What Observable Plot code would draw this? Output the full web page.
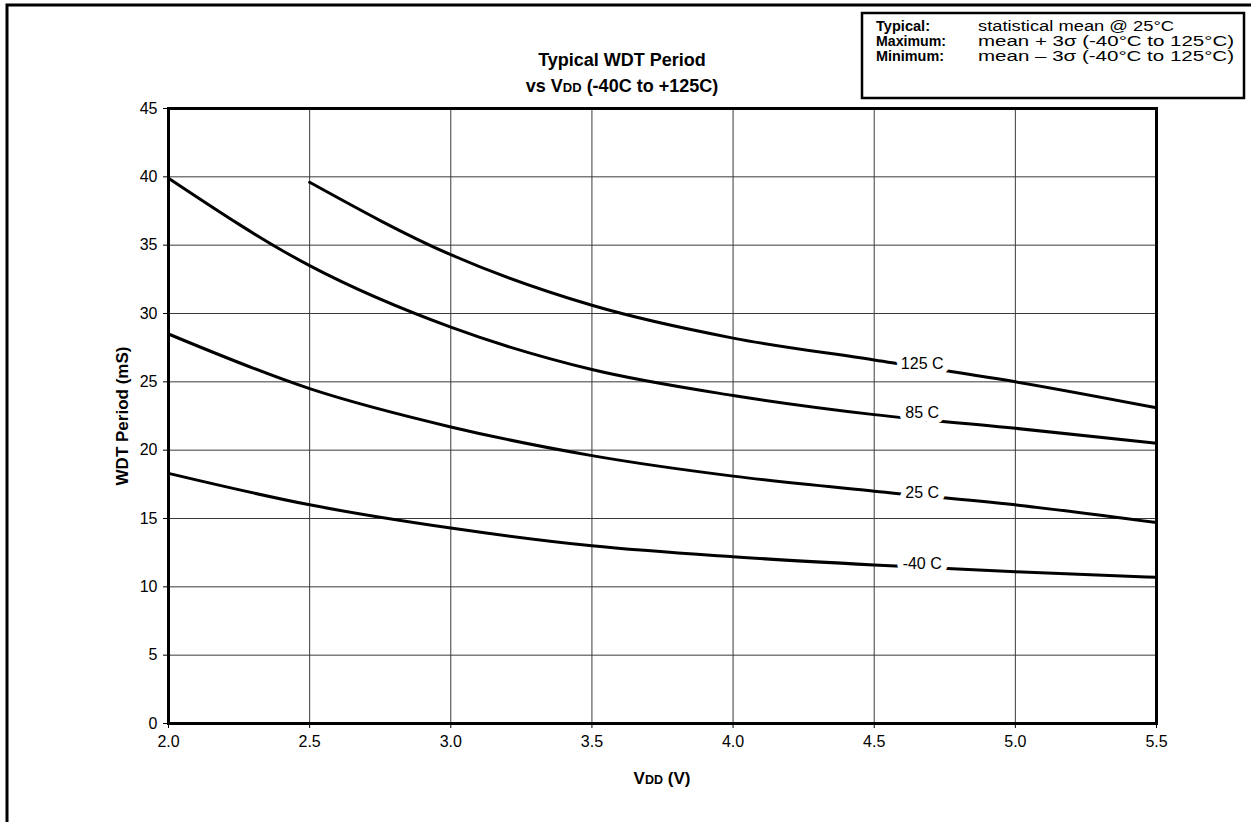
<!DOCTYPE html>
<html>
<head>
<meta charset="utf-8">
<script src="https://cdn.jsdelivr.net/npm/d3@7"></script>
<script src="https://cdn.jsdelivr.net/npm/@observablehq/plot@0.6"></script>
<style>
  html, body { margin: 0; padding: 0; background: #fff; overflow: hidden; }
  #chart { position: relative; width: 1251px; height: 822px; }
</style>
</head>
<body>
<div id="chart"></div>
<script>
// ---- data ----
const vdd   = [2.0, 2.5, 3.0, 3.5, 4.0, 4.5, 5.0, 5.5];
const t125  = [null, 39.6, 34.3, 30.6, 28.2, 26.6, 25.0, 23.1];
const t85   = [39.9, 33.5, 29.0, 25.9, 24.0, 22.6, 21.6, 20.5];
const t25   = [28.5, 24.5, 21.7, 19.6, 18.1, 17.0, 16.0, 14.7];
const tm40  = [18.3, 16.0, 14.3, 13.0, 12.2, 11.6, 11.1, 10.7];
const seriesNames = ["125 C", "85 C", "25 C", "-40 C"];
const seriesValues = [t125, t85, t25, tm40];
const labelX = [4.67, 4.67, 4.67, 4.67];
const labelY = [26.3, 22.7, 16.9, 11.7];
const xTicks = [2.0, 2.5, 3.0, 3.5, 4.0, 4.5, 5.0, 5.5];
const yTicks = [0, 5, 10, 15, 20, 25, 30, 35, 40, 45];
const legendKeys = ["Typical:", "Maximum:", "Minimum:"];
const legendTexts = ["statistical mean @ 25°C", "mean + 3σ (-40°C to 125°C)", "mean – 3σ (-40°C to 125°C)"];

// long table
const rows = [];
seriesNames.forEach((s, i) => {
  vdd.forEach((v, j) => {
    if (seriesValues[i][j] != null) rows.push({series: s, vdd: v, period: seriesValues[i][j]});
  });
});
const labels = seriesNames.map((s, i) => ({series: s, x: labelX[i], y: labelY[i]}));

const font = "'Liberation Sans', Arial, Helvetica, sans-serif";

const plot = Plot.plot({
  width: 1251,
  height: 822,
  marginLeft: 168,
  marginRight: 95,
  marginTop: 108,
  marginBottom: 99,
  style: {fontFamily: font, fontSize: "16px", color: "#000", background: "transparent"},
  x: {domain: [2.0, 5.5], ticks: xTicks, tickFormat: d3.format(".1f"), label: null},
  y: {domain: [0, 45], ticks: yTicks, label: null},
  marks: [
    Plot.gridX(xTicks, {stroke: "#3a3a3a", strokeOpacity: 1, strokeWidth: 1}),
    Plot.gridY(yTicks, {stroke: "#3a3a3a", strokeOpacity: 1, strokeWidth: 1}),
    Plot.axisX({ticks: xTicks, tickFormat: d3.format(".1f"), tickSize: 5, tickPadding: 7, stroke: "#000", fontSize: 16, label: null}),
    Plot.axisY({ticks: yTicks, tickSize: 5, tickPadding: 6, stroke: "#000", fontSize: 16, label: null}),
    Plot.line(rows, {x: "vdd", y: "period", z: "series", stroke: "#000", strokeWidth: 3, curve: "monotone-x"}),
    Plot.text(labels, {x: "x", y: "y", text: "series", fill: "#000", stroke: "#fff", strokeWidth: 12, paintOrder: "stroke", fontSize: 16}),
    Plot.frame({stroke: "#000", strokeWidth: 3})
  ]
});
document.getElementById("chart").appendChild(plot);

const svg = d3.select(plot);

// outer border of the page figure
svg.append("path")
  .attr("d", "M7,830 L7,5 L1251,5")
  .attr("fill", "none").attr("stroke", "#000").attr("stroke-width", 3);

// title
const title = svg.append("g").attr("font-family", font).attr("font-weight", "bold").attr("font-size", 18).attr("text-anchor", "middle");
title.append("text").attr("x", 622).attr("y", 66).text("Typical WDT Period");
const t2 = title.append("text").attr("x", 622).attr("y", 92);
t2.append("tspan").text("vs V");
t2.append("tspan").attr("font-size", 13).text("DD");
t2.append("tspan").text(" (-40C to +125C)");

// axis titles
svg.append("text").attr("font-family", font).attr("font-weight", "bold").attr("font-size", 17)
  .attr("text-anchor", "middle").attr("transform", "translate(128,416) rotate(-90)").text("WDT Period (mS)");
const xt = svg.append("text").attr("font-family", font).attr("font-weight", "bold").attr("font-size", 17)
  .attr("text-anchor", "middle").attr("x", 662).attr("y", 784);
xt.append("tspan").text("V");
xt.append("tspan").attr("font-size", 12.5).text("DD");
xt.append("tspan").text(" (V)");

// legend box
svg.append("rect").attr("x", 862).attr("y", 13).attr("width", 382).attr("height", 85)
  .attr("fill", "#fff").attr("stroke", "#000").attr("stroke-width", 2.5);
const lg = svg.append("g").attr("font-family", font).attr("text-anchor", "start");
const keyWidths = [54, 70, 68];
const valueWidths = [196, 256, 256];
legendKeys.forEach((k, i) => {
  lg.append("text").attr("x", 876).attr("y", 31 + i * 15).attr("font-size", 14).attr("font-weight", "bold")
    .attr("textLength", keyWidths[i]).attr("lengthAdjust", "spacingAndGlyphs").text(k);
  lg.append("text").attr("x", 978).attr("y", 31 + i * 15).attr("font-size", 14)
    .attr("textLength", valueWidths[i]).attr("lengthAdjust", "spacingAndGlyphs").text(legendTexts[i]);
});
</script>
</body>
</html>
